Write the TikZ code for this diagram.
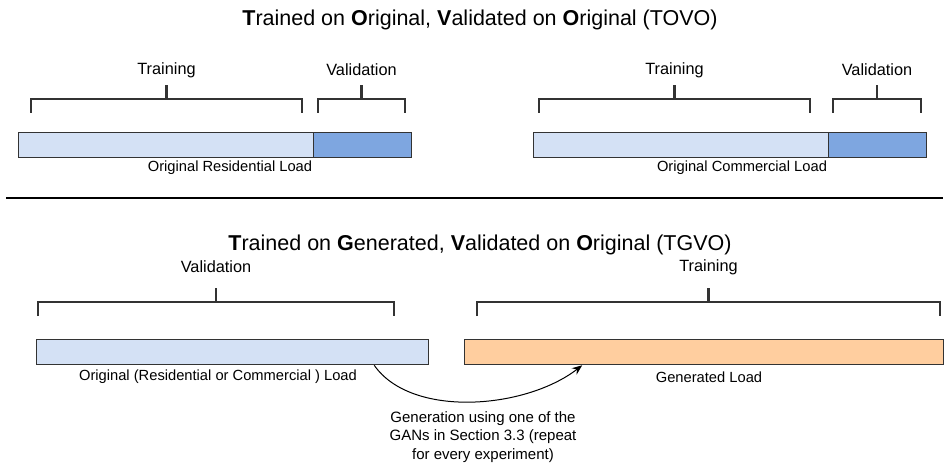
\documentclass[tikz,border=0pt]{standalone}
\usepackage{fontspec}
\setmainfont{Liberation Sans}
\usetikzlibrary{arrows.meta,positioning,calc}
\definecolor{origfill}{HTML}{D4E1F5}
\definecolor{valfill}{HTML}{7EA6E0}
\definecolor{genfill}{HTML}{FFCE9F}
\definecolor{edgegray}{HTML}{333333}

\begin{document}
\begin{tikzpicture}[x=1pt, y=-1pt,
    bar/.style={draw=edgegray, line width=1.3pt, anchor=north west, minimum height=25pt, inner sep=0pt},
    brace/.style={draw=edgegray, line width=2.2pt},
    heading/.style={font=\fontsize{21.5}{26}\selectfont},
    partlbl/.style={font=\fontsize{16.3}{20}\selectfont},
    loadlbl/.style={font=\fontsize{14.7}{18.5}\selectfont}]
    \useasboundingbox (0,0) rectangle (949,470);

    % Draw the headings
    \node[heading] (tovo) at (480,20) {\textbf{T}rained on \textbf{O}riginal, \textbf{V}alidated on \textbf{O}riginal (TOVO)};
    \node[heading] (tgvo) at (480,245) {\textbf{T}rained on \textbf{G}enerated, \textbf{V}alidated on \textbf{O}riginal (TGVO)};

    % Separator between the two experiments
    \coordinate (sepl) at (6,198);
    \coordinate (sepr) at (943,198);
    \draw[line width=1.5pt] (sepl) -- (sepr);

    % Draw the load bars
    \node[bar, fill=origfill, minimum width=295pt] (restrain) at (18,132) {};
    \node[bar, fill=valfill, minimum width=98pt] (resval) at (313,132) {};
    \node[bar, fill=origfill, minimum width=295pt] (comtrain) at (533,132) {};
    \node[bar, fill=valfill, minimum width=98pt] (comval) at (828,132) {};
    \node[bar, fill=origfill, minimum width=392pt] (orig) at (36,339) {};
    \node[bar, fill=genfill, minimum width=479pt] (gen) at (464,339) {};

    % Captions under the bars
    \node[loadlbl] (reslbl) at (230,168) {Original Residential Load};
    \node[loadlbl] (comlbl) at (742,168) {Original Commercial Load};
    \node[loadlbl] (origlbl) at (218,377) {Original (Residential or Commercial ) Load};
    \node[loadlbl] (genlbl) at (709,377) {Generated Load};

    % Draw the brackets with their labels
    \foreach \xa/\xb/\yb/\dy/\txt/\nm in {31/302/99/29/Training/trres, 318/405/99/29/Validation/vlres,
                                          539/810/99/29/Training/trcom, 833/921/99/29/Validation/vlcom,
                                          38/394/302/35/Validation/vlorig, 477/940/302/35/Training/trgen} {
        \node[partlbl] (\nm) at ({(\xa+\xb)/2}, \yb-\dy) {\txt};
        \draw[brace] (\xa,\yb+14) -- (\xa,\yb) -- (\xb,\yb) -- (\xb,\yb+14);
        \draw[brace] ({(\xa+\xb)/2},\yb) -- ({(\xa+\xb)/2},\yb-14);
    }

    % Generation arrow
    \draw[-{Stealth[length=10pt,width=8pt]}, line width=1pt]
        ($(orig.south west)!0.86!(orig.south east)$) .. controls +(37,53) and +(-57,44) .. ($(gen.south west)!0.246!(gen.south east)$);
    \node[loadlbl, font=\fontsize{15}{18.5}\selectfont, align=center] (gantxt) at (483,437) {Generation using one of the\\GANs in Section 3.3 (repeat\\for every experiment)};
\end{tikzpicture}
\end{document}
